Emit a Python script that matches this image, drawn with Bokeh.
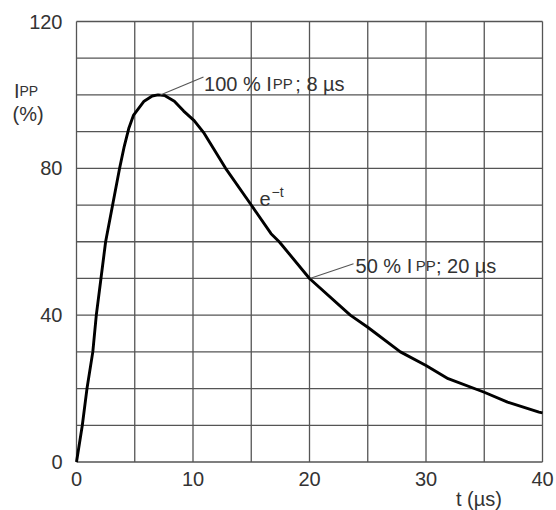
from bokeh.plotting import figure
from bokeh.models import FixedTicker, Label
from bokeh.embed import file_html
from bokeh.resources import INLINE

# ---- data ----
t_us = [0, 0.5, 0.9, 1.4, 1.7, 2.1, 2.5, 3.1, 3.7, 4.1, 4.5, 4.9, 5.8, 6.5, 7.0, 7.6,
        8.4, 9.2, 10.1, 10.9, 12.8, 15.0, 16.7, 17.4, 20.0, 23.5, 25.0, 27.8, 30.0,
        31.9, 35.0, 37.0, 39.7, 40.0]
ipp_pct = [0, 10, 20, 30, 40, 50, 60, 70, 80, 86, 91, 94.5, 98.3, 99.7, 100, 99.8,
           98.3, 95.6, 93, 89.8, 80, 70, 62.2, 60, 50, 40, 36.7, 30, 26.3,
           22.7, 19.0, 16.3, 13.6, 13.4]

x_tick_values = [0, 10, 20, 30, 40]
y_tick_values = [0, 40, 80, 120]
x_grid_values = [0, 5, 10, 15, 20, 25, 30, 35, 40]
y_grid_values = [0, 10, 20, 30, 40, 50, 60, 70, 80, 90, 100, 110, 120]

FONT = "Liberation Sans"
TXT = "#333333"
GRID = "#555555"

# ---- layout: the chart box (0..40, 0..120) inside a 556x510 canvas ----
W, H = 556, 510
BOX_L, BOX_R, BOX_T, BOX_B = 76.0, 542.0, 21.0, 461.5
x_lo, x_hi = x_grid_values[0], x_grid_values[-1]
y_lo, y_hi = y_grid_values[0], y_grid_values[-1]
kx = (BOX_R - BOX_L) / (x_hi - x_lo)
ky = (BOX_B - BOX_T) / (y_hi - y_lo)
x_range = (x_lo - BOX_L / kx, x_hi + (W - BOX_R) / kx)
y_range = (y_lo - (H - BOX_B) / ky, y_hi + BOX_T / ky)

p = figure(width=W, height=H, x_range=x_range, y_range=y_range,
           output_backend="svg", toolbar_location=None, min_border=0)

p.background_fill_color = "white"
p.border_fill_color = "white"
p.outline_line_color = None
p.grid.visible = False

# grid (including the box border) drawn from the grid value lists
p.segment(x0=x_grid_values, x1=x_grid_values,
          y0=[y_lo] * len(x_grid_values), y1=[y_hi] * len(x_grid_values),
          line_color=GRID, line_width=1.3)
p.segment(x0=[x_lo] * len(y_grid_values), x1=[x_hi] * len(y_grid_values),
          y0=y_grid_values, y1=y_grid_values,
          line_color=GRID, line_width=1.3)

# axes pinned to the chart box
p.xaxis.ticker = FixedTicker(ticks=x_tick_values)
p.yaxis.ticker = FixedTicker(ticks=y_tick_values)
p.xaxis.fixed_location = y_lo
p.yaxis.fixed_location = x_lo
p.xaxis.bounds = (x_lo, x_hi)
p.yaxis.bounds = (y_lo, y_hi)
for ax in (p.xaxis, p.yaxis):
    ax.axis_line_color = None
    ax.major_tick_line_color = None
    ax.minor_tick_line_color = None
    ax.major_tick_out = 0
    ax.major_tick_in = 0
    ax.major_label_text_font = FONT
    ax.major_label_text_font_size = "20px"
    ax.major_label_text_color = TXT
p.xaxis.major_label_standoff = 10
p.yaxis.major_label_standoff = 14

# curve
p.line(t_us, ipp_pct, line_color="black", line_width=2.9, line_join="round")

# leader lines for the annotations
p.segment(x0=[7.2, 20.09], y0=[100.0, 50.04], x1=[10.9, 23.78], y1=[104.9, 54.0],
          line_color=GRID, line_width=1.1)


def add_text(x, y, text, size):
    p.add_layout(Label(x=x, y=y, text=text, text_font=FONT,
                       text_font_size=size, text_color=TXT,
                       text_align="left", text_baseline="alphabetic"))


# "100 % IPP; 8 µs"
add_text(10.95, 103.0, "100 % I", "20px")
add_text(16.85, 103.0, "PP", "15px")
add_text(18.78, 103.0, "; 8 µs", "20px")

# "50 % IPP; 20 µs"
add_text(23.95, 53.45, "50 % I", "20px")
add_text(29.12, 53.45, "PP", "15px")
add_text(30.85, 53.45, "; 20 µs", "20px")

# e^-t
add_text(15.71, 71.6, "e", "20px")
add_text(16.74, 73.5, "\u2212t", "14px")

# axis titles
add_text(-5.36, 101.2, "I", "20px")
add_text(-4.89, 101.2, "PP", "14px")
add_text(-5.49, 94.9, "(%)", "20px")
add_text(32.57, -10.0, "t (µs)", "20px")

open("out.html", "w").write(file_html(p, INLINE))
